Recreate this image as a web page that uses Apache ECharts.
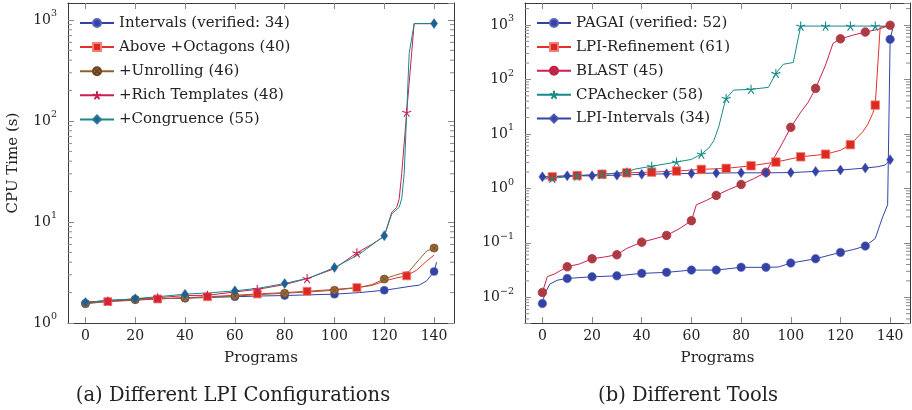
<!DOCTYPE html>
<html><head><meta charset="utf-8">
<script src="https://cdn.jsdelivr.net/npm/echarts@6/dist/echarts.min.js"></script>
<style>html,body{margin:0;padding:0;background:#fff}#c{width:912px;height:410px}</style>
</head><body><div id="c"></div>
<script>
// ---------- axis ticks ----------
const xTickValues = [0, 20, 40, 60, 80, 100, 120, 140];
const leftMinorTicks = [2,3,4,5,6,7,8,9,20,30,40,50,60,70,80,90,200,300,400,500,600,700,800,900];
const rightMinorTicks = [0.004,0.005,0.006,0.007,0.008,0.009,0.02,0.03,0.04,0.05,0.06,0.07,0.08,0.09,
  0.2,0.3,0.4,0.5,0.6,0.7,0.8,0.9,2,3,4,5,6,7,8,9,20,30,40,50,60,70,80,90,200,300,400,500,600,700,800,900,2000];

// ---------- (a) Different LPI Configurations ----------
const cfgNames = ['Intervals (verified: 34)', 'Above +Octagons (40)', '+Unrolling (46)', '+Rich Templates (48)', '+Congruence (55)'];

const intervalsX = [0,5,10,20,30,40,50,60,70,80,90,100,110,120,125,130,134,137,140,141];
const intervalsY = [1.57,1.64,1.68,1.72,1.74,1.76,1.79,1.82,1.85,1.87,1.90,1.93,2.0,2.11,2.2,2.3,2.37,2.61,3.23,4.0];
const intervalsMarks = [0,20,40,60,80,100,120,140];

const octagonsX = [0,9,20,29,40,49,60,69,80,89,100,109,115,120,125,129,133,137,140];
const octagonsY = [1.57,1.63,1.68,1.73,1.78,1.82,1.88,1.94,2.0,2.06,2.15,2.24,2.35,2.6,2.8,2.93,3.34,4.1,4.7];
const octagonsMarks = [9,29,49,69,89,109,129];

const unrollingX = [0,10,20,30,40,50,60,70,80,90,100,110,115,120,124,130,134,137,140];
const unrollingY = [1.55,1.64,1.70,1.74,1.77,1.81,1.85,1.91,1.97,2.03,2.11,2.25,2.4,2.72,2.95,3.25,4.25,5.15,5.52];
const unrollingMarks = [0,20,40,60,80,100,120,140];

const richX = [0,9,20,29,40,49,60,69,80,89,100,109,115,120,123,125,126,127,129,132,140];
const richY = [1.62,1.65,1.73,1.78,1.87,1.88,2.03,2.15,2.4,2.75,3.45,4.95,6.0,7.2,12.5,14,17,30,122,920,920];
const richMarks = [9,29,49,69,89,109,129];

const congruenceX = [0,10,20,30,40,50,60,70,80,90,100,110,120,123,126,127,128,129,130,132,140];
const congruenceY = [1.6,1.67,1.74,1.83,1.93,1.99,2.08,2.22,2.46,2.8,3.54,4.8,7.31,12,14,17,30,120,465,920,920];
const congruenceMarks = [0,20,40,60,80,100,120,140];

// ---------- (b) Different Tools ----------
const toolNames = ['PAGAI (verified: 52)', 'LPI-Refinement (61)', 'BLAST (45)', 'CPAchecker (58)', 'LPI-Intervals (34)'];

const pagaiX = [0,1,3,6,10,20,30,40,50,60,70,80,90,95,100,110,120,125,130,134,137,139,140,141];
const pagaiY = [0.0077,0.0118,0.0175,0.0206,0.0222,0.0238,0.0248,0.0275,0.0287,0.0316,0.0316,0.0355,0.0355,0.036,0.0425,0.051,0.0668,0.075,0.0872,0.12,0.3,0.5,545,850];
const pagaiMarks = [0,10,20,30,40,50,60,70,80,90,100,110,120,130,140];

const refinementX = [0,4,14,24,34,44,54,64,74,84,94,104,114,120,124,129,131,133,134,136,140];
const refinementY = [1.58,1.63,1.72,1.82,1.93,1.99,2.08,2.23,2.33,2.60,3.04,3.80,4.24,5.0,6.35,11,15,23.8,33.8,925,950];
const refinementMarks = [4,14,24,34,44,54,64,74,84,94,104,114,124,134];

const blastX = [0,2,5,10,15,20,25,30,34,40,45,50,55,60,62,66,70,75,80,85,90,92,96,100,104,107,110,114,117,120,125,130,135,140];
const blastY = [0.0123,0.024,0.027,0.0363,0.041,0.051,0.055,0.0604,0.079,0.103,0.118,0.137,0.18,0.255,0.5,0.6,0.743,0.95,1.18,1.5,1.97,2.9,6.0,13.2,25,38,68.6,184,460,558,650,741,830,990];
const blastMarks = [0,10,20,30,40,50,60,70,80,90,100,110,120,130,140];

const cpaX = [0,4,14,24,34,37,44,54,60,64,67,69,71,73,74,77,84,91,94,97,101,104,114,124,134,140];
const cpaY = [1.48,1.53,1.70,1.81,2.0,2.25,2.55,3.05,3.4,4.26,5.5,7.5,13.5,31.5,44.9,63.8,65.8,71.6,129,190,205,955,955,955,955,955];
const cpaMarks = [4,14,24,34,44,54,64,74,84,94,104,114,124,134];

const lpiIntX = [0,10,20,30,40,50,60,70,80,90,100,110,120,130,135,138,140];
const lpiIntY = [1.63,1.70,1.70,1.75,1.81,1.85,1.88,1.91,1.93,1.93,1.95,2.05,2.17,2.36,2.5,2.68,3.35];
const lpiIntMarks = [0,10,20,30,40,50,60,70,80,90,100,110,120,130,140];

// ---------- styling ----------
const FONT = 'DejaVu Serif';
const TXT = '#222';
const FRAME = '#3a3a3a';
const TICK = '#8a8a8a';
const X_MIN = -7, X_MAX = 148;
const STAR = 'path://M0,-10L0,0M9.51,-3.09L0,0M5.88,8.09L0,0M-5.88,8.09L0,0M-9.51,-3.09L0,0';
const OTIMES = 'path://M10,0A10,10,0,1,1,-10,0A10,10,0,1,1,10,0ZM-7.07,-7.07L7.07,7.07M7.07,-7.07L-7.07,7.07';

function mkData(xs, ys, marks) {
  return xs.map((x, i) => marks.indexOf(x) >= 0 ? [x, ys[i]] : { value: [x, ys[i]], symbol: 'none' });
}
function supLabel(v) {
  const k = Math.log10(v);
  const r = Math.round(k);
  if (Math.abs(k - r) > 1e-6) return '';
  return '{b|10}{s|' + (r < 0 ? '\u2212' + (-r) : r) + '}';
}
const labelRich = {
  b: { fontFamily: FONT, fontSize: 14, color: TXT, lineHeight: 14 },
  s: { fontFamily: FONT, fontSize: 9.5, color: TXT, lineHeight: 10, padding: [0, 0, 12, 0] }
};

function xAxes(g) {
  const base = {
    gridIndex: g, type: 'value', min: X_MIN, max: X_MAX,
    splitLine: { show: false },
    axisLine: { show: true, onZero: false, lineStyle: { color: FRAME, width: 1 } },
    axisTick: { show: true, inside: true, length: 6, customValues: xTickValues, lineStyle: { color: TICK } }
  };
  return [
    Object.assign({}, base, {
      position: 'bottom',
      axisLabel: { customValues: xTickValues, fontFamily: FONT, fontSize: 14, color: TXT, margin: 6 },
      name: 'Programs', nameLocation: 'middle', nameGap: 28,
      nameTextStyle: { fontFamily: FONT, fontSize: 15, color: TXT }
    }),
    Object.assign({}, base, { position: 'top', axisLabel: { show: false } })
  ];
}
function yAxes(g, min, max, withName) {
  const base = { gridIndex: g, type: 'log', min: min, max: max, logBase: 10, splitLine: { show: false } };
  const major = Object.assign({}, base, {
    position: 'left',
    axisLine: { show: true, onZero: false, lineStyle: { color: FRAME, width: 1 } },
    axisTick: { show: true, inside: true, length: 6, lineStyle: { color: TICK } },
    axisLabel: { formatter: supLabel, rich: labelRich, margin: 11, showMinLabel: true, showMaxLabel: false }
  });
  if (withName) {
    Object.assign(major, { name: 'CPU Time (s)', nameLocation: 'middle', nameGap: 47,
      nameTextStyle: { fontFamily: FONT, fontSize: 15, color: TXT } });
  }
  const majorR = Object.assign({}, base, {
    position: 'right',
    axisLine: { show: true, onZero: false, lineStyle: { color: FRAME, width: 1 } },
    axisTick: { show: true, inside: true, length: 6, lineStyle: { color: TICK } },
    axisLabel: { show: false }
  });
  return [major, majorR];
}

// minor ticks of the log axes, placed through the axes' own scales
function minorTickSeries(xi, yi, values) {
  return {
    type: 'custom', xAxisIndex: xi, yAxisIndex: yi, silent: true, clip: false, z: 3,
    data: values.map(v => [X_MIN, v]),
    renderItem: function (params, api) {
      const v = api.value(1);
      const p = api.coord([X_MIN, v]);
      const q = api.coord([X_MAX, v]);
      const st = { stroke: TICK, lineWidth: 1 };
      return { type: 'group', children: [
        { type: 'line', shape: { x1: p[0], y1: p[1], x2: p[0] + 4, y2: p[1] }, style: st },
        { type: 'line', shape: { x1: q[0], y1: q[1], x2: q[0] - 4, y2: q[1] }, style: st }
      ] };
    }
  };
}

function lineSeries(name, xi, yi, xs, ys, marks, color, sym, size, fill, border, bw) {
  return {
    name: name, type: 'line', xAxisIndex: xi, yAxisIndex: yi,
    data: mkData(xs, ys, marks),
    symbol: sym, symbolSize: size, showAllSymbol: true, smooth: false,
    lineStyle: { color: color, width: 1 },
    itemStyle: { color: fill, borderColor: border, borderWidth: bw },
    emphasis: { disabled: true }, silent: true, clip: true, z: 5
  };
}

const BLUE = '#3442a6', RED = '#e0322a', BROWN = '#93612f', CRIMSON = '#cc1f50', TEAL = '#178a88';
const legendText = { fontFamily: FONT, fontSize: 15, color: TXT, lineHeight: 14 };

const option = {
  animation: false,
  grid: [
    { left: 68, top: 3, width: 386, height: 320 },
    { left: 525, top: 3, width: 385, height: 320 }
  ],
  xAxis: xAxes(0).concat(xAxes(1)),
  yAxis: yAxes(0, 1, 1472, true).concat(yAxes(1, 0.003373, 2535, false)),
  legend: [
    { data: cfgNames, orient: 'vertical', left: 74, top: 10.5, itemWidth: 34, itemHeight: 10, itemGap: 9.1,
      selectedMode: false, textStyle: legendText },
    { data: toolNames, orient: 'vertical', left: 531, top: 10.5, itemWidth: 34, itemHeight: 10, itemGap: 8.9,
      selectedMode: false, textStyle: legendText }
  ],
  graphic: [
    { type: 'text', x: 233, y: 396, style: { text: '(a) Different LPI Configurations', font: '19.5px "DejaVu Serif"', fill: TXT, textAlign: 'center', textVerticalAlign: 'middle' } },
    { type: 'text', x: 688, y: 396, style: { text: '(b) Different Tools', font: '19.5px "DejaVu Serif"', fill: TXT, textAlign: 'center', textVerticalAlign: 'middle' } }
  ],
  series: [
    minorTickSeries(0, 0, leftMinorTicks),
    minorTickSeries(2, 2, rightMinorTicks),

    lineSeries(cfgNames[0], 0, 0, intervalsX, intervalsY, intervalsMarks, BLUE, 'circle', 8, BLUE, '#5a66bb', 0.6),
    lineSeries(cfgNames[1], 0, 0, octagonsX, octagonsY, octagonsMarks, RED, 'rect', 8, '#dd2a20', '#f08078', 0.8),
    lineSeries(cfgNames[2], 0, 0, unrollingX, unrollingY, unrollingMarks, BROWN, OTIMES, 8, '#9c6a3a', '#6b4420', 0.7),
    lineSeries(cfgNames[3], 0, 0, richX, richY, richMarks, CRIMSON, STAR, 9, 'none', CRIMSON, 1.1),
    lineSeries(cfgNames[4], 0, 0, congruenceX, congruenceY, congruenceMarks, TEAL, 'diamond', [7, 10], '#1f5f92', '#2a7a9a', 0.5),

    lineSeries(toolNames[0], 2, 2, pagaiX, pagaiY, pagaiMarks, BLUE, 'circle', 8.5, BLUE, '#5a66bb', 0.6),
    lineSeries(toolNames[1], 2, 2, refinementX, refinementY, refinementMarks, RED, 'rect', 8.5, '#dd2a20', '#f08078', 0.8),
    lineSeries(toolNames[2], 2, 2, blastX, blastY, blastMarks, CRIMSON, OTIMES, 8.5, '#a0473e', '#c41e4a', 0.8),
    lineSeries(toolNames[3], 2, 2, cpaX, cpaY, cpaMarks, TEAL, STAR, 9, 'none', TEAL, 1.1),
    lineSeries(toolNames[4], 2, 2, lpiIntX, lpiIntY, lpiIntMarks, BLUE, 'diamond', [7, 10], BLUE, '#4a58b0', 0.5)
  ]
};

const chart = echarts.init(document.getElementById('c'), null, { renderer: 'canvas' });
chart.setOption(option);
</script></body></html>
